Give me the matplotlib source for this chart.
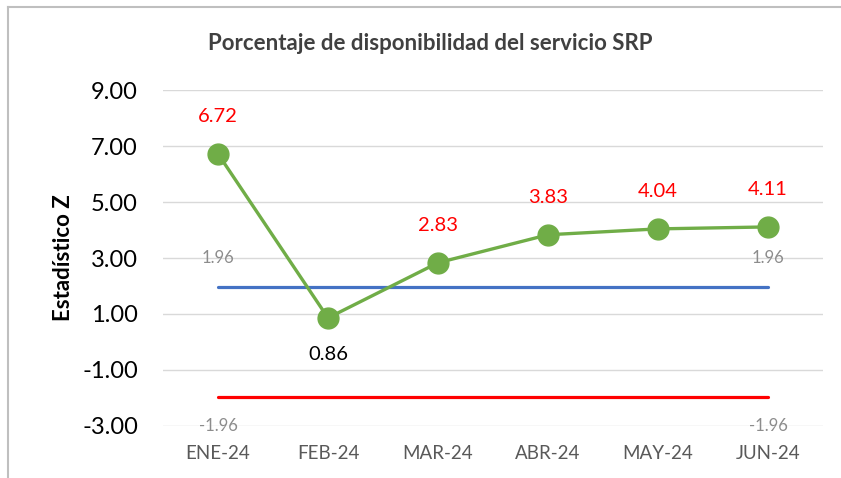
import matplotlib.pyplot as plt
from matplotlib.lines import Line2D

plt.rcParams['font.family'] = ['Lato', 'DejaVu Sans']

# datos
meses = ['ENE-24', 'FEB-24', 'MAR-24', 'ABR-24', 'MAY-24', 'JUN-24']
z = [6.72, 0.86, 2.83, 3.83, 4.04, 4.11]
lim_sup = 1.96
lim_inf = -1.96
y_ticks = [-3, -1, 1, 3, 5, 7, 9]

fig = plt.figure(figsize=(8.41, 4.78), dpi=100)
ax = fig.add_axes([163 / 841, 1 - 426 / 478, 660 / 841, 336 / 478])

x = list(range(len(meses)))

# limites
ax.plot(x, [lim_sup] * len(x), color='#4472C4', lw=2.3, solid_capstyle='round', zorder=2)
ax.plot(x, [lim_inf] * len(x), color='#FF0000', lw=2.3, solid_capstyle='round', zorder=2)

# serie Z
ax.plot(x, z, color='#70AD47', lw=2.4, marker='o', markersize=15, zorder=3)

for xi, v in zip(x, z):
    if v > lim_sup:
        ax.annotate(f'{v:.2f}', (xi, v), xytext=(0, 37), textcoords='offset pixels',
                    ha='center', va='center', fontsize=14.5, color='#FF0000')
    else:
        ax.annotate(f'{v:.2f}', (xi, v), xytext=(0, -37), textcoords='offset pixels',
                    ha='center', va='center', fontsize=14.5, color='black')

# etiquetas de limites
for xi in (x[0], x[-1]):
    ax.annotate(f'{lim_sup:.2f}', (xi, lim_sup), xytext=(0, 29), textcoords='offset pixels',
                ha='center', va='center', fontsize=12, color='#8c8c8c')
    ax.annotate(f'{lim_inf:.2f}', (xi, lim_inf), xytext=(0, -29), textcoords='offset pixels',
                ha='center', va='center', fontsize=12, color='#8c8c8c')

ax.set_xlim(-0.5, len(x) - 0.5)
ax.set_ylim(-3, 9)
ax.set_yticks(y_ticks)
ax.set_yticklabels([f'{t:.2f}' for t in y_ticks], fontsize=17)
ax.set_xticks(x)
ax.set_xticklabels(meses, fontsize=13.5, color='#595959')
ax.tick_params(length=0)
ax.tick_params(axis='y', pad=18)
ax.tick_params(axis='x', pad=14)
ax.grid(axis='y', color='#d9d9d9', lw=1)
ax.set_axisbelow(True)
for s in ax.spines.values():
    s.set_visible(False)

ax.set_ylabel('Estadístico Z', fontsize=16, fontweight='bold', labelpad=6)
fig.text(430 / 841, 1 - 44 / 478, 'Porcentaje de disponibilidad del servicio SRP',
         ha='center', va='center', fontsize=16, fontweight='bold', color='#404040')

# marco del grafico
fig.add_artist(Line2D([8 / 841, 8 / 841], [0, 1 - 7 / 478], color='#bfbfbf', lw=1.5))
fig.add_artist(Line2D([8 / 841, 1], [1 - 7 / 478, 1 - 7 / 478], color='#bfbfbf', lw=1.5))

fig.savefig('out.png', dpi=100)
